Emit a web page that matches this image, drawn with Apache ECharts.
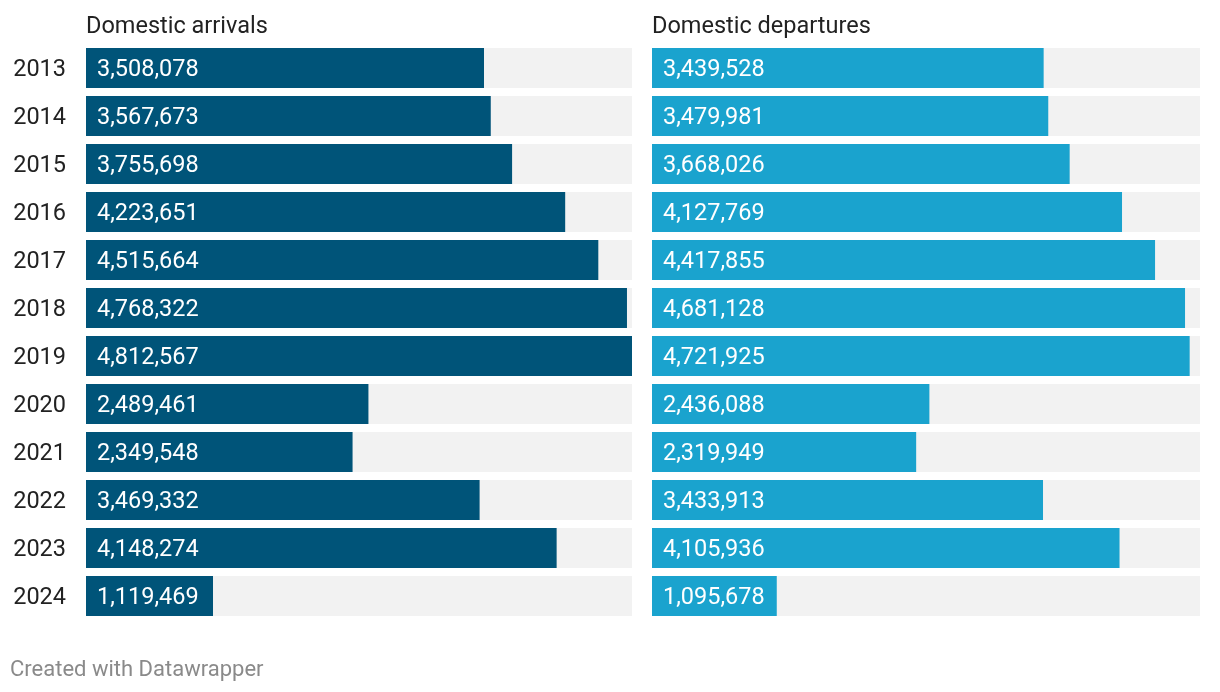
<!DOCTYPE html>
<html>
<head>
<meta charset="utf-8">
<script src="https://cdn.jsdelivr.net/npm/echarts@6/dist/echarts.min.js"></script>
<style>
html,body{margin:0;padding:0;background:#fff;}
#c{width:1220px;height:692px;}
</style>
</head>
<body>
<div id="c"></div>
<script>
const years = ['2013','2014','2015','2016','2017','2018','2019','2020','2021','2022','2023','2024'];
const arrivals = [3508078,3567673,3755698,4223651,4515664,4768322,4812567,2489461,2349548,3469332,4148274,1119469];
const departures = [3439528,3479981,3668026,4127769,4417855,4681128,4721925,2436088,2319949,3433913,4105936,1095678];
const titles = ['Domestic arrivals','Domestic departures'];
const footer = 'Created with Datawrapper';

const FONT = 'Roboto';
const maxVal = Math.max(...arrivals, ...departures);
const chart = echarts.init(document.getElementById('c'), null, {renderer:'canvas'});
const fmt = v => Number(v).toLocaleString('en-US');

function series(idx, data, color){
  return {
    type:'bar', xAxisIndex:idx, yAxisIndex:idx, data:data,
    barWidth:40, silent:true,
    itemStyle:{color:color},
    showBackground:true,
    backgroundStyle:{color:'#f2f2f2'},
    label:{show:true, position:'insideLeft', distance:11, color:'#fff',
      fontFamily:FONT, fontSize:23.5, offset:[0,2], formatter:p=>fmt(p.value)}
  };
}

chart.setOption({
  animation:false,
  textStyle:{fontFamily:FONT},
  title:[
    {text:titles[0], left:81, top:10, textStyle:{fontFamily:FONT, fontSize:23.5, fontWeight:'normal', color:'#222'}},
    {text:titles[1], left:647, top:10, textStyle:{fontFamily:FONT, fontSize:23.5, fontWeight:'normal', color:'#222'}},
    {text:footer, left:5, top:654, textStyle:{fontFamily:FONT, fontSize:22, fontWeight:'normal', color:'#8a8a8a'}}
  ],
  grid:[
    {left:86, width:546, top:44, height:576},
    {left:652, width:548, top:44, height:576}
  ],
  xAxis:[
    {gridIndex:0, type:'value', min:0, max:maxVal, show:false},
    {gridIndex:1, type:'value', min:0, max:maxVal, show:false}
  ],
  yAxis:[
    {gridIndex:0, type:'category', data:years, inverse:true,
      axisLine:{show:false}, axisTick:{show:false}, splitLine:{show:false},
      axisLabel:{margin:20, formatter:v=>'{y|'+v+'}',
        rich:{y:{color:'#222', fontFamily:FONT, fontSize:23.5, padding:[4,0,0,0]}}}},
    {gridIndex:1, type:'category', data:years, inverse:true, show:false}
  ],
  series:[series(0, arrivals, '#005479'), series(1, departures, '#1aa3ce')]
});
</script>
</body>
</html>
